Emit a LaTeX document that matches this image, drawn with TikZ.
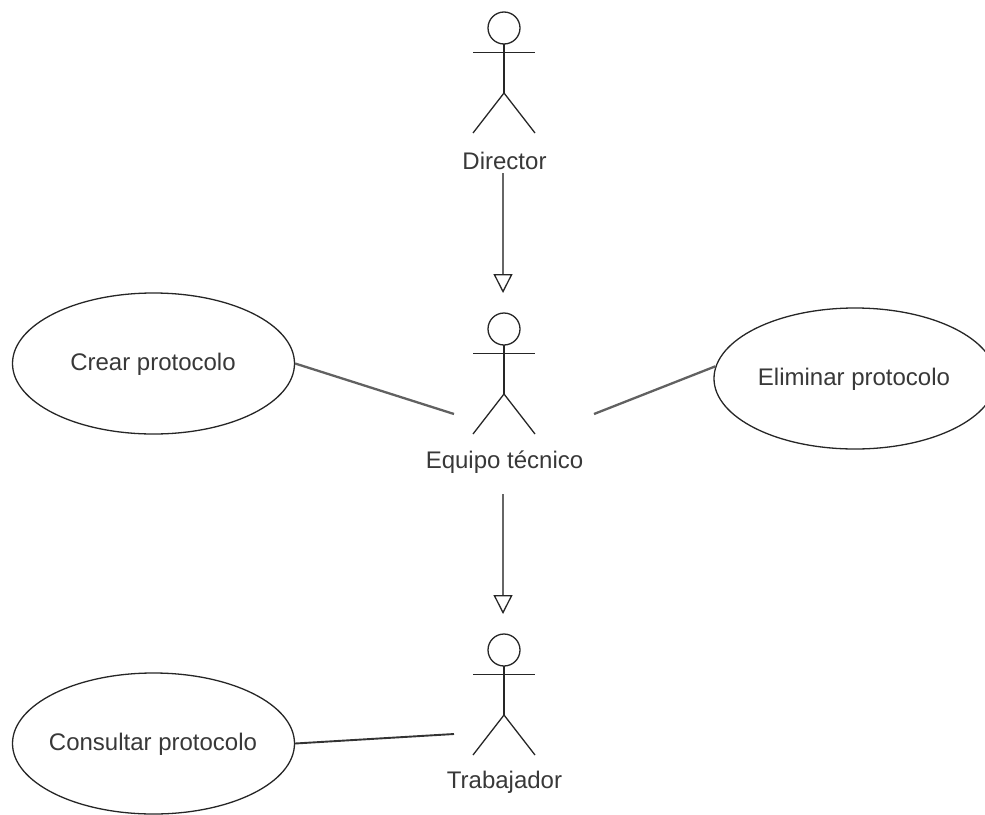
\documentclass[tikz,border=0pt]{standalone}
\usepackage{fontspec}
\setmainfont{Liberation Sans}
\usetikzlibrary{shapes.geometric,arrows.meta}
\tikzset{
  usecase/.style={draw=black!85,ellipse,line width=1.3pt,minimum width=282,minimum height=141,inner sep=0pt},
  lbl/.style={font=\fontsize{24pt}{28pt}\selectfont,text=black!78,inner sep=0pt},
  link/.style={draw=black!62,line width=2.3pt},
  gen/.style={draw=black!60,line width=2.3pt,-{Triangle[open,length=19pt,width=19pt,line width=1.3pt,color=black!85]}},
  stick/.style={line width=1.3pt,black!85}
}
\newcommand{\actor}[2]{%
  \begin{scope}[shift={(#1,#2)}]
    \draw[stick] (0,-16) circle (16);
    \draw[stick] (0,-32) -- (0,-81);
    \draw[stick] (-31,-40.5) -- (31,-40.5);
    \draw[stick] (-31,-121) -- (0,-81) -- (31,-121);
  \end{scope}}
\begin{document}
\begin{tikzpicture}[x=1pt,y=1pt]
\useasboundingbox (0,0) rectangle (985,-814);
\actor{504}{-12}
\actor{504}{-313}
\actor{504}{-634}
\node[lbl] (dir) at (504.5,-161) {Director};
\node[lbl] (eq) at (504.5,-462) {Equipo técnico};
\node[lbl] (tra) at (504.5,-782.5) {Trabajador};
\coordinate (dirb) at (503,-173);
\coordinate (eqt) at (503,-293);
\coordinate (eqb) at (503,-494);
\coordinate (trt) at (503,-614);
\coordinate (eql) at (454,-414);
\coordinate (eqr) at (594,-414);
\coordinate (tral) at (454,-734);
\node[usecase] (crear) at (153.5,-363.5) {};
\node[lbl] (crearl) at (153,-364) {Crear protocolo};
\node[usecase] (elim) at (855,-378.5) {};
\node[lbl] (eliml) at (854,-379.5) {Eliminar protocolo};
\node[usecase] (cons) at (153.5,-743.5) {};
\node[lbl] (consl) at (153,-744.5) {Consultar protocolo};
\draw[gen] (dirb) -- (eqt);
\draw[gen] (eqb) -- (trt);
\draw[link] (crear.east) -- (eql);
\draw[link] (elim.175) -- (eqr);
\draw[link,draw=black!80,line width=1.9pt] (cons.east) -- (tral);
\end{tikzpicture}
\end{document}
